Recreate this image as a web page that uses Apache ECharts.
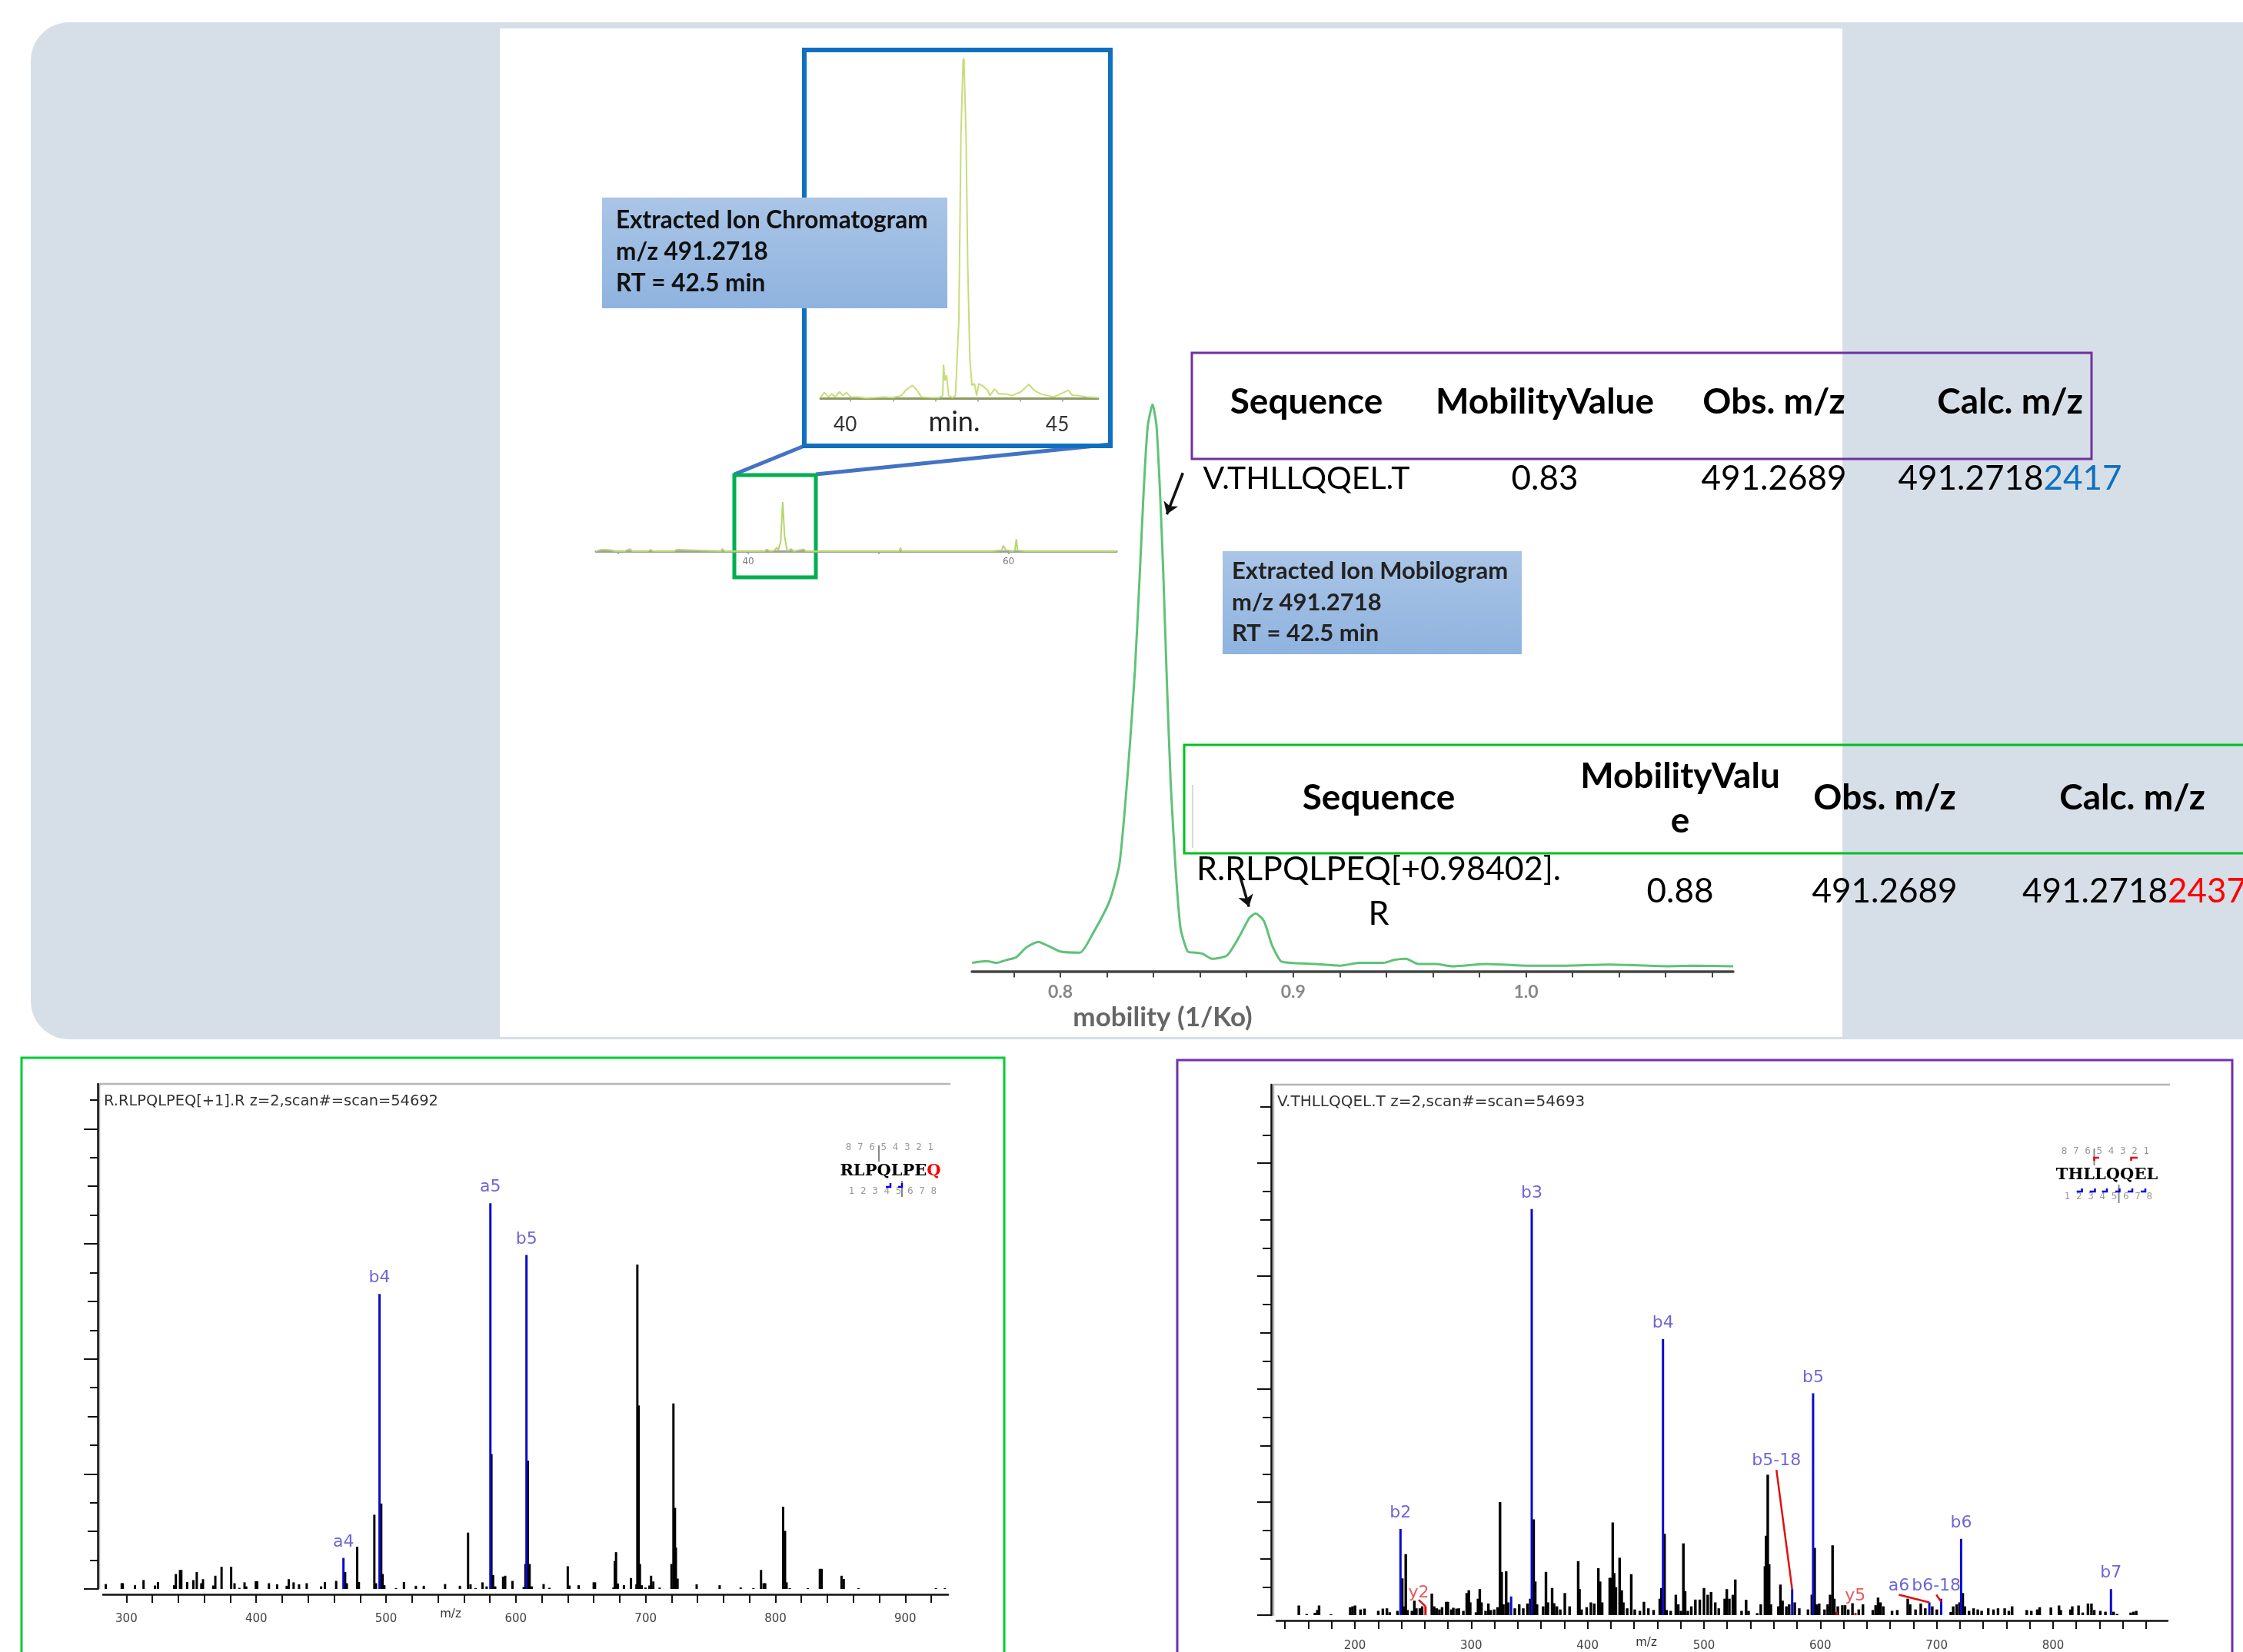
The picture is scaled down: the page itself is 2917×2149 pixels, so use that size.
<!DOCTYPE html>
<html>
<head>
<meta charset="utf-8">
<style>html,body{margin:0;padding:0;background:#fff}#c{width:2917px;height:2149px;overflow:hidden}</style>
<script src="https://cdn.jsdelivr.net/npm/echarts@6/dist/echarts.min.js"></script>
</head>
<body>
<div id="c"></div>
<script>
// ---------- data ----------
const miniTrace = [[28.3,0],[28.5,1.5],[28.8,3],[29.4,2.3],[29.8,0],[30.5,0],[30.9,4.5],[31.1,0],[32.3,0],[32.5,3],[32.7,0],[34.3,0],[34.5,3],[34.6,0],[37.9,0],[38,4.5],[38.2,0],[41.3,0],[41.4,3.8],[41.7,0],[42,1],[42.2,7.6],[42.3,1],[42.5,20],[42.65,100],[42.8,30],[43,0],[43.3,4.5],[43.5,0],[44.3,3.8],[44.4,0],[46.4,0],[46.5,1.5],[46.6,0],[51.6,0],[51.7,6.8],[51.8,0],[53.1,0],[53.2,2.3],[53.3,0],[54.7,0],[54.8,2.3],[54.9,0],[57,0],[57.1,2.3],[57.2,0],[58.7,0],[58.8,3],[59.5,2],[59.6,11.4],[59.8,2.3],[60.3,0],[60.5,2],[60.6,24],[60.7,1.5],[61.3,0],[62.8,0],[62.9,2.3],[63,0],[64,0],[64.1,2.3],[64.2,0],[68.3,0]];
const miniTicks = [30,40,50,60];
const miniLabels = [40,60];

const insetTrace = [[39.29,0.3],[39.38,1.8],[39.48,0.5],[39.55,1.4],[39.64,0.5],[39.74,2],[39.82,0.9],[39.9,1.8],[40,0.5],[40.16,0.5],[40.36,0.2],[40.57,0.3],[40.78,0.5],[40.99,0.3],[41.2,0.9],[41.3,2.5],[41.46,3.9],[41.56,2.5],[41.67,0.5],[41.88,0.3],[42.08,0.3],[42.17,0.9],[42.19,10],[42.22,5.3],[42.26,6.9],[42.31,0.9],[42.4,0.3],[42.47,0.9],[42.55,22.8],[42.6,77.5],[42.65,99.4],[42.67,100],[42.69,90.8],[42.72,77.5],[42.76,39.2],[42.81,11.8],[42.86,3.9],[42.92,4.4],[42.97,0.9],[43.02,4.4],[43.13,3.6],[43.23,2.5],[43.28,0.9],[43.39,2.8],[43.49,1.4],[43.65,1.4],[43.8,0.9],[44.01,2],[44.2,4.2],[44.32,2.5],[44.48,1.4],[44.64,0.9],[44.79,0.5],[44.95,1.4],[45.13,2.5],[45.23,0.9],[45.36,0.9],[45.57,0.5],[45.83,0.3]];
const insetTicks = [40,41,42,43,44,45];
const insetLabels = [40,45];

const mobilityTrace = [[0.7621,1.5],[0.7684,1.8],[0.7726,1.5],[0.7768,2],[0.7811,2.5],[0.7853,4.2],[0.7905,5.2],[0.7947,4.5],[0.8,3.5],[0.8084,3.3],[0.8137,6.5],[0.8211,12.4],[0.8253,18.8],[0.8278,29.2],[0.8299,40.3],[0.832,53],[0.8341,70.1],[0.8358,85],[0.8375,96.1],[0.8396,100],[0.8413,96.1],[0.8429,83.5],[0.8442,70.1],[0.8457,51.5],[0.8474,32.9],[0.8495,18],[0.8516,7.6],[0.8547,3.5],[0.8579,3.3],[0.8611,3.1],[0.8653,2.2],[0.8716,2.8],[0.8768,6.1],[0.8811,9.4],[0.8838,10.2],[0.8874,8.9],[0.8909,4.6],[0.8947,1.8],[0.8989,1.5],[0.9095,1.3],[0.92,1],[0.9284,1.5],[0.9389,1.5],[0.9432,2],[0.9484,2.2],[0.9537,1.3],[0.9611,1.3],[0.9684,0.9],[0.9832,1.3],[1,1],[1.0147,1],[1.0358,1.2],[1.0611,0.9],[1.0711,1],[1.089,0.9]];
const mobilityTicks = [0.78,0.8,0.82,0.84,0.86,0.88,0.9,0.92,0.94,0.96,0.98,1,1.02,1.04,1.06,1.08];
const mobilityLabels = [0.8,0.9,1];
const mobilityArrowA = [[0.8526,87.9],[0.8457,80.6]];
const mobilityArrowB = [[0.8768,17.3],[0.881,11.4]];

const leftPeaksBlack = [[284.1,.17],[296.4,.2],[297.2,.2],[306.6,.13],[313.2,.31],[322,.12],[324.3,.24],[336.8,.13],[338.1,.52],[341.3,.66],[342.3,.66],[346.8,.24],[351.6,.31],[354.2,.59],[357.7,.2],[359,.34],[366.9,.12],[368.5,.46],[373.3,.77],[380.7,.77],[383.3,.2],[387,.04],[391,.23],[392.3,.09],[399.7,.27],[400.8,.27],[409.8,.2],[416.1,.16],[423.5,.11],[425.1,.34],[428.8,.23],[433,.16],[438.9,.2],[450,.09],[452.9,.24],[461.6,.28],[468.5,.59],[469.8,.2],[477.8,1.47],[479.1,.24],[491,2.58],[492.3,.2],[496.3,2.97],[497.4,.52],[498.7,.13],[507.7,.03],[513.8,.24],[523,.11],[529.1,.11],[545.5,.17],[556.9,.11],[563.2,1.96],[565.1,.16],[569,.03],[574.3,.23],[577.5,.09],[581.2,4.69],[582.5,.48],[584.1,.09],[590.2,.43],[591.8,.46],[597.4,.28],[606.1,.07],[607.4,.87],[609.3,4.46],[610.6,.87],[612.2,.09],[621.4,.17],[625.9,.04],[640,.79],[641.3,.12],[648.4,.13],[660,.23],[661,.23],[675.2,.05],[676.2,.97],[677.2,1.28],[678.6,.19],[683.3,.13],[688.7,.38],[692.9,.16],[693.6,11.28],[694.6,6.38],[695.6,.87],[697,.13],[699.8,.05],[702.9,.12],[704.2,.46],[705.9,.26],[710.8,.05],[719.9,.87],[721.4,6.45],[722.6,2.82],[723.3,1.44],[724.6,.36],[739.3,.16],[757,.13],[773.2,.05],[783,.03],[788.9,.66],[790.9,.2],[792.1,.2],[805.9,2.86],[807.4,2.02],[808.6,.23],[811,.03],[825,.03],[834.2,.7],[835.6,.7],[850.9,.46],[852.6,.35],[863.9,.03],[923.6,.03],[930.5,.03]];
const leftPeaksBlue = [[467.2,1.08],[495,10.26],[580.4,13.41],[608.2,11.61]];
const leftIonNames = ['a4','b4','a5','b5'];
const leftXTicks = [300,320,340,360,380,400,420,440,460,480,500,520,540,560,580,600,620,640,660,680,700,720,740,760,780,800,820,840,860,880,900,920];
const leftXLabels = [300,400,500,600,700,800,900];

const rightPeaksBlack = [[151.7,.34],[158.5,.04],[165.5,.08],[167.6,.18],[169.1,.34],[179.4,.03],[195.9,.28],[197.9,.31],[200,.34],[204.7,.2],[208.2,.23],[220,.15],[223.9,.23],[227.4,.24],[229.8,.1],[236.5,.15],[240.6,1.3],[242.1,.31],[243.6,2.16],[245.1,.18],[248.9,.15],[251,.51],[252.7,.24],[255.7,.24],[257.7,.31],[266,.76],[268,.31],[270.1,.24],[272.5,.2],[274.8,.28],[278.4,.47],[279.8,.47],[282.8,.2],[284.5,.26],[287.2,.23],[289.2,.24],[293.1,.15],[296,.78],[297.8,.88],[299,.45],[304,.1],[305.7,.58],[307.2,.92],[308.7,.45],[312.2,.15],[314.6,.41],[316.6,.18],[319.6,.2],[322.5,.28],[324.6,4],[326,1.53],[327.5,.38],[329.9,1.55],[331.7,.45],[337.3,.24],[341.1,.38],[344.6,.24],[348.2,.41],[350.6,.58],[353.5,3.39],[354.9,1.19],[356.4,.38],[361.7,.31],[364.1,1.53],[365.8,.45],[369.4,.96],[371.1,.42],[373.5,.31],[376.4,.2],[380.3,.78],[384.4,.31],[391.8,1.91],[392.9,.92],[394.7,.2],[399.1,.28],[402.7,.45],[405.6,.41],[409.1,1.66],[410.6,1.19],[412.4,.45],[418.9,1.32],[420.3,1.32],[421.5,3.28],[422.7,1.49],[424.2,.99],[427.4,2.03],[429.2,.88],[430.6,.45],[433.9,.24],[437.4,1.45],[440.4,.2],[444.8,.15],[448.3,.47],[452.1,.24],[456.6,.18],[461.9,.58],[463.3,.96],[466,2.88],[467.7,.18],[471.3,.15],[475.7,.72],[477.8,.38],[480.1,.15],[482.2,2.54],[483.7,.85],[486,.15],[489,.31],[492.5,.55],[496.3,.55],[499.9,.96],[503.1,.72],[506,.82],[509.6,.45],[512.6,.24],[517.7,.58],[519.5,.92],[521.7,.58],[524.7,.72],[526.8,1.26],[532.2,.15],[536.1,.54],[538.2,.15],[545.7,.07],[548.7,.38],[552.3,1.73],[553.2,2.81],[554.7,4.97],[555.9,1.8],[557.4,.38],[563.8,.31],[565.6,1.08],[567.4,.51],[570.7,.31],[573.1,.38],[577.9,.45],[581.8,.24],[589.3,.2],[592.6,.72],[595,2.38],[596.8,.38],[598.9,.41],[603.5,.2],[606.2,.38],[608.3,.72],[610.4,2.47],[611.9,.58],[614.9,.31],[618.8,.35],[621.2,.35],[623.9,.2],[627.5,.42],[632.9,.2],[636.5,.38],[645,.18],[647.4,.35],[649.5,.62],[651.6,.45],[654,.31],[661.5,.15],[666,.18],[675,.58],[677.1,.38],[681.7,.2],[686.2,.41],[690.1,.24],[696.1,.31],[700,.2],[712,.11],[714.1,.31],[717.1,.38],[719.5,.45],[722.3,.78],[724.1,.31],[727.7,.15],[731.6,.24],[735.2,.2],[738.5,.15],[744.2,.24],[748.7,.2],[752.6,.24],[758.3,.24],[761.9,.15],[764.7,.31],[777.3,.18],[781.2,.15],[786.3,.2],[788.4,.28],[798,.27],[805,.34],[806.5,.18],[814.9,.2],[816.4,.31],[821.8,.34],[825.4,.09],[829.9,.41],[832.9,.41],[835.3,.18],[840.5,.15],[844.9,.12],[851.9,.12],[854.9,.04],[866.6,.09],[869,.12],[871.4,.15]];
const rightPeaksBlue = [[239.2,3.05],[334.3,.66],[352,14.38],[464.8,9.77],[575.8,.92],[593.8,7.85],[693.7,.45],[703.9,.58],[721,2.7],[849.8,.92]];
const rightPeaksRed = [[260.7,.31],[614,.11],[630.2,.08]];
const rightBarIons = [[239.2,3.05,'b2'],[352,14.38,'b3'],[464.8,9.77,'b4'],[593.8,7.85,'b5'],[721,2.7,'b6'],[849.8,.92,'b7']];
const rightLeaderIons = [[562.3,5.14,'b5-18'],[667.5,.72,'a6'],[699.7,.72,'b6-18']];
const rightRedIons = [[254.8,.54,'y2'],[630,.45,'y5']];
const rightLeaders = [[[562.3,5.14],[575.8,.92]],[[254.8,.54],[260.7,.31]],[[667.5,.72],[693.7,.45]],[[699.7,.72],[703.9,.47]]];
const rightXTicks = [140,160,180,200,220,240,260,280,300,320,340,360,380,400,420,440,460,480,500,520,540,560,580,600,620,640,660,680,700,720,740,760,780,800,820,840,860,880];
const rightXLabels = [200,300,400,500,600,700,800];

const yTicksEvery4 = [0,4,8,12,16];
const yTicksEvery2 = [2,6,10,14,18];
const yTicksEvery1 = [1,3,5,7,9,11,13,15,17];

const tableHeaders = ['Sequence','MobilityValue','Obs. m/z','Calc. m/z'];
const rowPurple = ['V.THLLQQEL.T','0.83','491.2689','491.2718','2417'];
const rowGreen = ['R.RLPQLPEQ[+0.98402].','R','0.88','491.2689','491.2718','2437'];

// ---------- drawing ----------
const LATO = 'Lato, "Noto Sans", sans-serif';
const DJV = '"DejaVu Sans", sans-serif';
const g = [];
const rect = (x,y,w,h,o) => g.push(Object.assign({type:'rect',shape:{x,y,width:w,height:h,r:o.r||0},style:{fill:o.fill||'none',stroke:o.stroke||null,lineWidth:o.lw||0},silent:true,z:o.z===undefined?-1:o.z}));
const line = (pts,c,lw,z) => g.push({type:'polyline',shape:{points:pts},style:{stroke:c,lineWidth:lw,fill:'none'},silent:true,z:z===undefined?-1:z});
const text = (s,x,y,font,fill,align,extra) => g.push({type:'text',silent:true,z:8,style:Object.assign({text:s,x,y,font,fill:fill||'#000',textAlign:align||'center',textVerticalAlign:'middle',align:align||'center',verticalAlign:'middle'},extra||{})});

// panel
rect(40,29,3100,1323,{fill:'#d6dfe8',r:50});
rect(650,37,1746,1312,{fill:'#ffffff'});
// spectrum frames
rect(28,1376,1278,900,{stroke:'#00cc33',lw:3});
rect(1531,1379,1372,900,{stroke:'#7030b0',lw:3});
line([[129,2067],[129,1410],[1236,1410]],'#b5b5b5',2.5);
line([[1656,2102],[1656,1411],[2822,1411]],'#b5b5b5',2.5);
// zoom boxes
line([[1046,580],[955,617]],'#4472c4',5,1);
line([[1444,578],[1061,617]],'#4472c4',5,1);
rect(1046,65,398,515,{stroke:'#1070c0',lw:6,z:1});
rect(955,618,106,133,{stroke:'#00b050',lw:5,z:1});
// callouts
const callFill = {type:'linear',x:0,y:0,x2:0,y2:1,colorStops:[{offset:0,color:'#aac5e6'},{offset:1,color:'#8fb3df'}]};
rect(783,257,449,144,{fill:callFill,z:3});
text('Extracted Ion Chromatogram',801,287,'bold 31.5px '+LATO,'#111','left');
text('m/z 491.2718',801,328,'bold 31.5px '+LATO,'#111','left');
text('RT = 42.5 min',801,369,'bold 31.5px '+LATO,'#111','left');
rect(1590,717,389,134,{fill:callFill,z:3});
text('Extracted Ion Mobilogram',1602,743,'bold 31px '+LATO,'#222','left');
text('m/z 491.2718',1602,784,'bold 31px '+LATO,'#222','left');
text('RT = 42.5 min',1602,824,'bold 31px '+LATO,'#222','left');
// tables
rect(1550,459,1170,138,{stroke:'#7030a0',lw:3,z:1});
rect(1540,969,1500,141,{stroke:'#00c020',lw:3,z:1});
line([[1551,1021],[1551,1103]],'#cccccc',1.5,1);
const H = 'bold 46px '+LATO, R = '44px '+LATO;
text(tableHeaders[0],1699,523,H); text(tableHeaders[1],2009,523,H); text(tableHeaders[2],2307,523,H); text(tableHeaders[3],2614,523,H);
text(rowPurple[0],1699,623,'41px '+LATO); text(rowPurple[1],2009,623,R); text(rowPurple[2],2307,623,R);
text('{a|'+rowPurple[3]+'}{b|'+rowPurple[4]+'}',2614,623,R,'#000','center',{rich:{a:{fill:'#000',fontFamily:'Lato',fontSize:44},b:{fill:'#1070c0',fontFamily:'Lato',fontSize:44}}});
text(tableHeaders[0],1793,1038,H); text('MobilityValu',2185,1010,H); text('e',2185,1068,H); text(tableHeaders[2],2451,1038,H); text(tableHeaders[3],2773,1038,H);
text(rowGreen[0],1793,1131,'43px '+LATO); text(rowGreen[1],1793,1189,'43px '+LATO); text(rowGreen[2],2185,1160,R); text(rowGreen[3],2451,1160,R);
text('{a|'+rowGreen[4]+'}{b|'+rowGreen[5]+'}',2630,1160,R,'#000','left',{rich:{a:{fill:'#000',fontFamily:'Lato',fontSize:44},b:{fill:'#ff0000',fontFamily:'Lato',fontSize:44}}});
// axis captions
text('min.',1241,549,'36px '+LATO,'#222');
text('mobility (1/Ko)',1512,1324,'bold 35px '+LATO,'#666');
text('m/z',586,2100,'15px '+DJV,'#333');
text('m/z',2141,2137,'15px '+DJV,'#333');
// spectrum headers
text('R.RLPQLPEQ[+1].R z=2,scan#=scan=54692',135,1433,'19.4px '+DJV,'#333','left');
text('V.THLLQQEL.T z=2,scan#=scan=54693',1661,1434,'20px '+DJV,'#333','left');
// sequence keys
const seqFont = 'bold 21px "DejaVu Serif", serif';
const numFont = '12px '+DJV;
text('8  7  6  5  4  3  2  1',1157,1493,numFont,'#999');
text('1  2  3  4  5  6  7  8',1161,1550,numFont,'#999');
text('{a|RLPQLPE}{b|Q}',1158,1524,seqFont,'#000','center',{rich:{a:{fill:'#000',fontFamily:'DejaVu Serif',fontWeight:'bold',fontSize:21},b:{fill:'#ff0000',fontFamily:'DejaVu Serif',fontWeight:'bold',fontSize:21}}});
line([[1143,1490],[1143,1511]],'#888',2,8);
line([[1173,1536],[1173,1557]],'#888',2,8);
line([[1152,1544],[1158,1544],[1158,1539]],'#0000ee',2.5,8);
line([[1168,1544],[1173,1544],[1173,1539]],'#0000ee',2.5,8);
text('8  7  6  5  4  3  2  1',2738,1498,numFont,'#999');
text('1  2  3  4  5  6  7  8',2742,1557,numFont,'#999');
text('THLLQQEL',2740,1529,seqFont,'#000');
line([[2723.5,1494],[2723.5,1516]],'#888',2,8);
line([[2755.5,1541],[2755.5,1565]],'#888',2,8);
line([[2723.5,1510],[2723.5,1506],[2730,1506]],'#ee0000',2.5,8);
line([[2771.5,1510],[2771.5,1506],[2780,1506]],'#ee0000',2.5,8);
[[2700.7,2707.6],[2717.6,2724.5],[2733.6,2740],[2751,2756.5],[2767,2773],[2784,2790]].forEach(p=>line([[p[0],1550],[p[1],1550],[p[1],1546]],'#0000ee',2.5,8));

// grids
const grids = [
  {left:775,top:653,width:677,height:64},
  {left:1067,top:76,width:361,height:442.6},
  {left:1264,top:526,width:990,height:737.6},
  {left:134,top:1410,width:1099,height:657},
  {left:1660,top:1411,width:1159,height:691}
];
const offAxis = {show:false};
const xAxes = [
 {gridIndex:0,type:'value',min:28.3,max:68.3,z:3,splitLine:offAxis,
  axisLine:{onZero:false,lineStyle:{color:'#a0a0a0',width:3}},
  axisTick:{customValues:miniTicks,length:4,lineStyle:{color:'#999',width:1.5}},
  axisLabel:{customValues:miniLabels,margin:8,fontSize:12,color:'#777',fontFamily:DJV}},
 {gridIndex:1,type:'value',min:39.29,max:45.83,z:3,splitLine:offAxis,
  axisLine:{onZero:false,lineStyle:{color:'#8c9a60',width:3}},
  axisTick:{customValues:insetTicks,length:4,lineStyle:{color:'#999',width:1.5}},
  axisLabel:{customValues:insetLabels,margin:21,fontSize:26,color:'#333',fontFamily:LATO,padding:[0,14,0,0]}},
 {gridIndex:2,type:'value',min:0.762,max:1.089,z:3,splitLine:offAxis,
  axisLine:{onZero:false,lineStyle:{color:'#444',width:3.5}},
  axisTick:{customValues:mobilityTicks,length:8,lineStyle:{color:'#444',width:2}},
  axisLabel:{customValues:mobilityLabels,margin:15,fontSize:23,fontWeight:'bold',color:'#888',fontFamily:LATO,formatter:v=>v.toFixed(1)}},
 {gridIndex:3,type:'value',min:282,max:933,offset:7,z:3,splitLine:offAxis,
  axisLine:{onZero:false,lineStyle:{color:'#111',width:2.5}},
  axisTick:{customValues:leftXTicks,length:11,lineStyle:{color:'#111',width:2}},
  axisLabel:{customValues:leftXLabels,margin:25,fontSize:15,color:'#444',fontFamily:DJV}},
 {gridIndex:4,type:'value',min:132.6,max:898.5,offset:7,z:3,splitLine:offAxis,
  axisLine:{onZero:false,lineStyle:{color:'#111',width:2.5}},
  axisTick:{customValues:rightXTicks,length:11,lineStyle:{color:'#111',width:2}},
  axisLabel:{customValues:rightXLabels,margin:26,fontSize:15,color:'#444',fontFamily:DJV}}
];
const hidY = (gi,max) => ({gridIndex:gi,type:'value',min:0,max,show:false,splitLine:offAxis});
const tickY = (gi,max,vals,len,showLine,off) => ({gridIndex:gi,type:'value',min:0,max,position:'left',offset:off,z:3,splitLine:offAxis,axisLabel:{show:false},
  axisLine:{show:showLine,onZero:false,lineStyle:{color:'#111',width:2.5}},axisTick:{show:true,customValues:vals,length:len,lineStyle:{color:'#111',width:2}}});
const yAxes = [
 hidY(0,100),hidY(1,100),hidY(2,100),
 tickY(3,17.56,yTicksEvery4,18,true,7),tickY(3,17.56,yTicksEvery2,13,false,7),tickY(3,17.56,yTicksEvery1,10,false,7),
 tickY(4,18.78,yTicksEvery4,18,true,7),tickY(4,18.78,yTicksEvery2,14,false,7),tickY(4,18.78,yTicksEvery1,11,false,7)
];
const bars = (xi,yi,data,color,w) => ({type:'bar',xAxisIndex:xi,yAxisIndex:yi,data,barWidth:w,barGap:'-100%',itemStyle:{color},silent:true,z:4});
const labelSeries = (xi,yi,items,color,size,dist) => ({type:'scatter',xAxisIndex:xi,yAxisIndex:yi,symbolSize:1,itemStyle:{color:'transparent'},silent:true,z:7,
  data:items.map(d=>({value:[d[0],d[1]],name:d[2]})),
  label:{show:true,position:'top',distance:dist,formatter:'{b}',color,fontSize:size,fontFamily:DJV}});
const leftLabels = leftPeaksBlue.map((p,i)=>[p[0],p[1],leftIonNames[i]]);

const series = [
 {type:'line',xAxisIndex:0,yAxisIndex:0,data:miniTrace,showSymbol:false,lineStyle:{color:'#b5d66a',width:2},silent:true,z:4},
 {type:'line',xAxisIndex:1,yAxisIndex:1,data:insetTrace,showSymbol:false,lineStyle:{color:'#c4de7a',width:2},silent:true,z:4},
 {type:'line',xAxisIndex:2,yAxisIndex:2,data:mobilityTrace,showSymbol:false,smooth:0.2,lineStyle:{color:'#5fc278',width:3},silent:true,z:4,
  markLine:{silent:true,animation:false,symbol:['none','arrow'],symbolSize:15,label:{show:false},lineStyle:{color:'#111',width:3.5,type:'solid'},
    data:[[{coord:mobilityArrowA[0]},{coord:mobilityArrowA[1]}],[{coord:mobilityArrowB[0]},{coord:mobilityArrowB[1]}]]}},
 bars(3,3,leftPeaksBlack,'#000',3),
 bars(3,3,leftPeaksBlue,'#0a0ac8',3),
 labelSeries(3,3,leftLabels,'#4a3fd0',22,9),
 bars(4,6,rightPeaksBlack,'#000',3.4),
 bars(4,6,rightPeaksBlue,'#0a0ad0',3),
 bars(4,6,rightPeaksRed,'#e00000',3),
 labelSeries(4,6,rightBarIons,'#4a3fd0',22,9),
 labelSeries(4,6,rightLeaderIons,'#4a3fd0',22,0),
 labelSeries(4,6,rightRedIons,'#e03030',22,-3)
].concat(rightLeaders.map(d=>({type:'line',xAxisIndex:4,yAxisIndex:6,data:d,showSymbol:false,lineStyle:{color:'#e01010',width:2.5},silent:true,z:6})));

const chart = echarts.init(document.getElementById('c'),null,{renderer:'canvas',width:2917,height:2149});
chart.setOption({animation:false,backgroundColor:'#ffffff',graphic:{elements:g},grid:grids,xAxis:xAxes,yAxis:yAxes,series});
</script>
</body>
</html>
